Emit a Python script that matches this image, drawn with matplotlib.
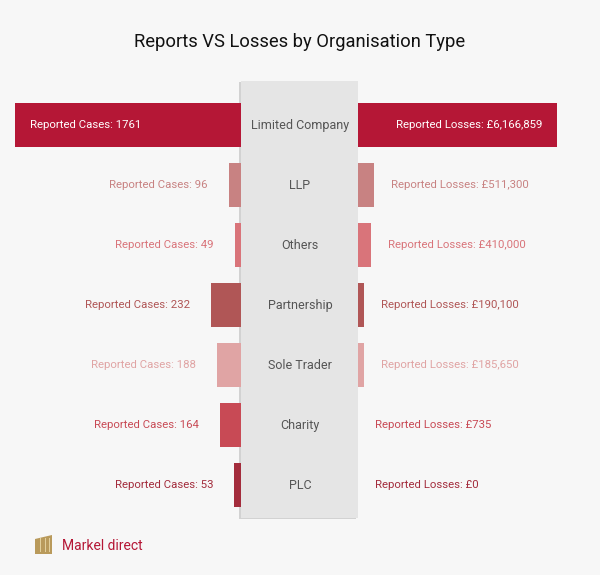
import numpy as np
import matplotlib.pyplot as plt
from matplotlib.patches import Rectangle, Polygon
from matplotlib.transforms import blended_transform_factory
import matplotlib.patheffects as pe

plt.rcParams['font.family'] = ['Roboto', 'DejaVu Sans']

# datos
categorias = ['Limited Company', 'LLP', 'Others', 'Partnership', 'Sole Trader', 'Charity', 'PLC']
casos = [1761, 96, 49, 232, 188, 164, 53]
perdidas = [6166859, 511300, 410000, 190100, 185650, 735, 0]
colores = ['#b51736', '#c88282', '#d9747a', '#b05656', '#e0a4a4', '#c84a55', '#a32c3c']

W, H = 600, 575
fig = plt.figure(figsize=(W / 100, H / 100), dpi=100, facecolor='#f7f7f7')


def caja(x0, y0, x1, y1):
    # convierte pixeles (origen arriba) a coordenadas de figura
    return [x0 / W, 1 - y1 / H, (x1 - x0) / W, (y1 - y0) / H]


# panel central gris con sombra
panel = Rectangle((241 / W, 1 - 518 / H), 117 / W, 437 / H, transform=fig.transFigure,
                  facecolor='#e5e5e5', edgecolor='none', zorder=0,
                  path_effects=[pe.withSimplePatchShadow(offset=(-1.5, -1), shadow_rgbFace='k', alpha=0.15),
                                pe.Normal()])
fig.patches.append(panel)

ax_l = fig.add_axes(caja(15, 95, 241, 515), zorder=1)
ax_r = fig.add_axes(caja(358, 95, 557, 515), zorder=1)

y = np.arange(len(categorias))
ax_l.barh(y, casos, height=0.72, color=colores)
ax_r.barh(y, perdidas, height=0.72, color=colores)

ax_l.set_xlim(max(casos), 0)
ax_r.set_xlim(0, max(perdidas))
for ax in (ax_l, ax_r):
    ax.set_ylim(len(categorias) - 0.5, -0.5)
    ax.set_facecolor('none')
    ax.axis('off')

fs = 8.2
for i, cat in enumerate(categorias):
    c, p, col = casos[i], perdidas[i], colores[i]
    txt_c = f'Reported Cases: {c}'
    txt_p = f'Reported Losses: £{p:,}'
    if c / max(casos) > 0.5:
        ax_l.annotate(txt_c, (max(casos), i), xytext=(15, 0), textcoords='offset pixels',
                      ha='left', va='center', color='white', fontsize=fs)
    else:
        ax_l.annotate(txt_c, (c, i), xytext=(-21, 0), textcoords='offset pixels',
                      ha='right', va='center', color=col, fontsize=fs)
    if p / max(perdidas) > 0.5:
        ax_r.annotate(txt_p, (max(perdidas), i), xytext=(-15, 0), textcoords='offset pixels',
                      ha='right', va='center', color='white', fontsize=fs)
    else:
        ax_r.annotate(txt_p, (p, i), xytext=(17, 0), textcoords='offset pixels',
                      ha='left', va='center', color=col, fontsize=fs)
    tr = blended_transform_factory(fig.transFigure, ax_l.transData)
    ax_l.text(0.5, i, cat, transform=tr, ha='center', va='center', color='#555555', fontsize=9)

fig.text(0.5, 1 - 42 / H, 'Reports VS Losses by Organisation Type', ha='center', va='center',
         fontsize=13.2, color='#111111')

# logo
fig.patches.append(Polygon([(35 / W, 1 - 554 / H), (35 / W, 1 - 539 / H), (52 / W, 1 - 535 / H),
                            (52 / W, 1 - 554 / H)], closed=True, transform=fig.transFigure,
                           facecolor='#b99a5b', edgecolor='none'))
for xl in (40, 45, 49):
    fig.patches.append(Rectangle((xl / W, 1 - 552 / H), 0.6 / W, 14 / H, transform=fig.transFigure,
                                 facecolor='#e2cf9c', edgecolor='none'))
fig.text(62 / W, 1 - 546 / H, 'Markel direct', ha='left', va='center', fontsize=10, color='#b51736')

fig.savefig('out.png', dpi=100, facecolor=fig.get_facecolor())
